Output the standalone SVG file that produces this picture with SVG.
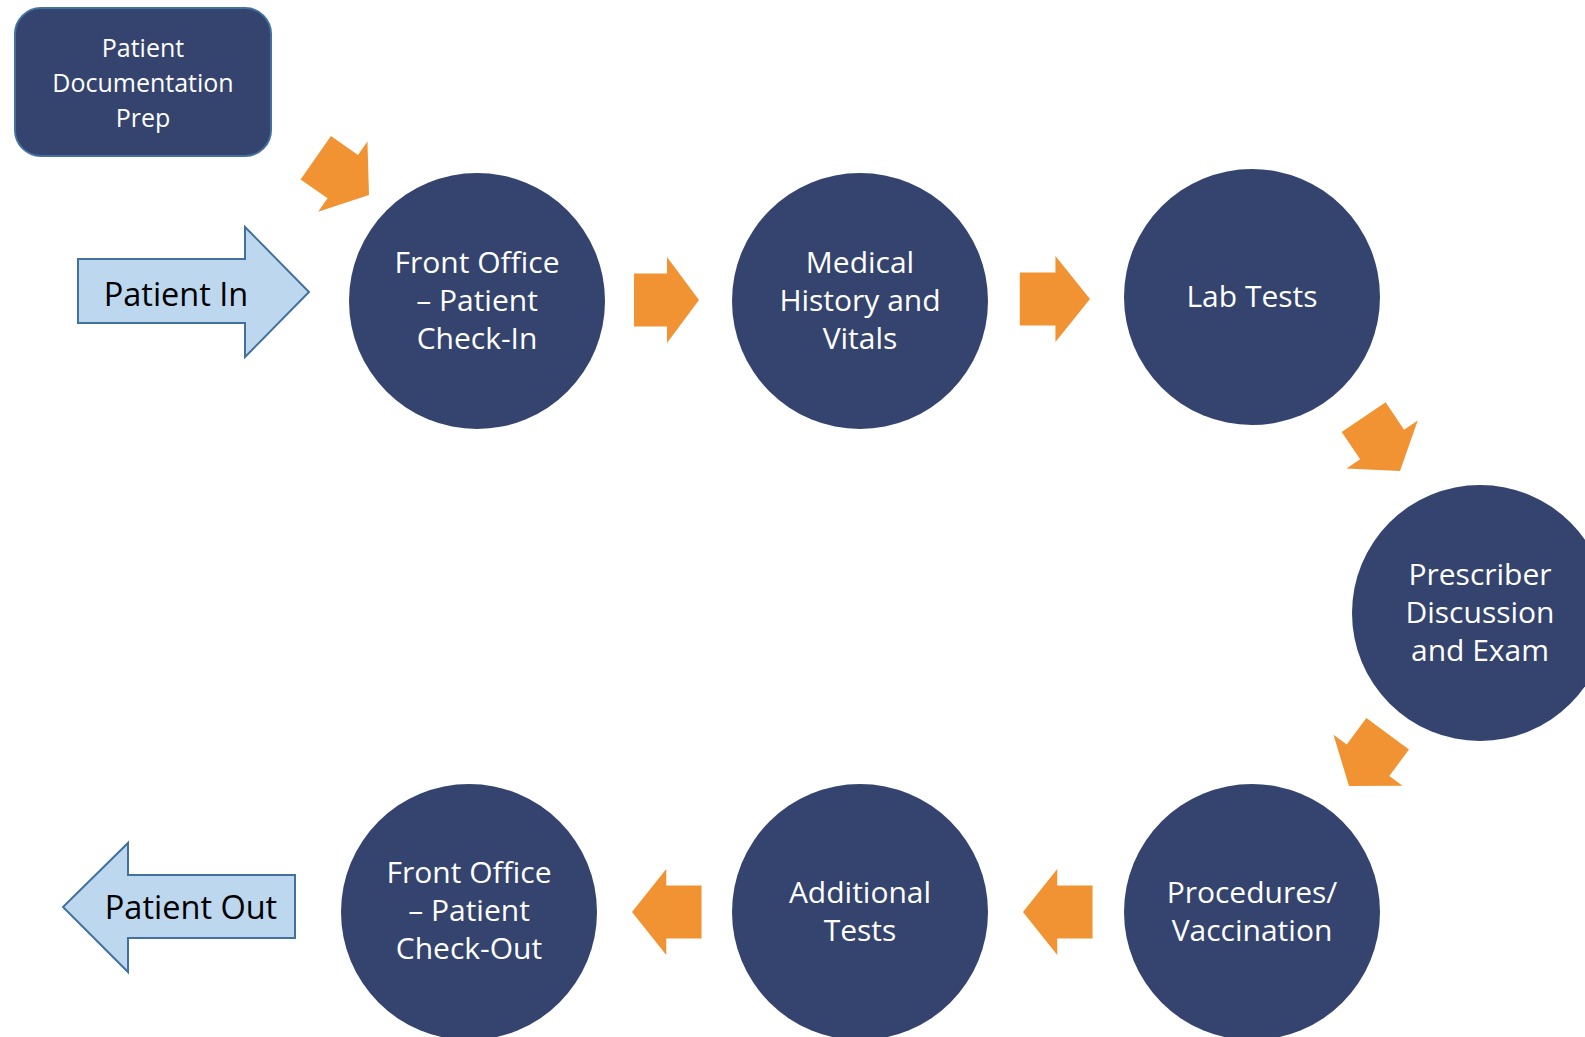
<svg xmlns="http://www.w3.org/2000/svg" width="1585" height="1037" viewBox="0 0 1585 1037">
<style>
.node{fill:#34446E;}
.nt{fill:#ffffff;font-family:"Open Sans","Liberation Sans",sans-serif;font-size:30px;text-anchor:middle;}
.bt{fill:#ffffff;font-family:"Open Sans","Liberation Sans",sans-serif;font-size:25px;text-anchor:middle;}
.big{fill:#BDD7EE;stroke:#41719C;stroke-width:2;}
.bigt{fill:#000000;font-family:"Open Sans","Liberation Sans",sans-serif;font-size:32.5px;text-anchor:middle;}
.oa{fill:#F29333;}
</style>
<defs>
<path id="oarrow" d="M-65,-26.5 L-32,-26.5 L-32,-43 L0,0 L-32,43 L-32,26.5 L-65,26.5 Z"/>
</defs>
<rect width="1585" height="1037" fill="#ffffff"/>
<g id="connectors">
<use href="#oarrow" class="oa" transform="translate(369,195) rotate(35)"/>
<use href="#oarrow" class="oa" transform="translate(699,300)"/>
<use href="#oarrow" class="oa" transform="translate(1090,299) scale(1.08,1)"/>
<use href="#oarrow" class="oa" transform="translate(1400,471) rotate(56)"/>
<use href="#oarrow" class="oa" transform="translate(1349,786) rotate(126.5)"/>
<use href="#oarrow" class="oa" transform="translate(1023,912) rotate(180) scale(1.07,1)"/>
<use href="#oarrow" class="oa" transform="translate(632,912) rotate(180) scale(1.07,1)"/>
</g>
<g id="prep">
<rect x="15" y="8" width="256" height="148" rx="26" fill="#34446E" stroke="#41719C" stroke-width="2"/>
<text class="bt" x="143" y="57">Patient</text>
<text class="bt" x="143" y="92">Documentation</text>
<text class="bt" x="143" y="127">Prep</text>
</g>
<g id="patient-in">
<path class="big" d="M78,259 L245,259 L245,227 L309,292 L245,357 L245,323 L78,323 Z"/>
<text class="bigt" x="176" y="306">Patient In</text>
</g>
<g id="patient-out">
<path class="big" d="M295,875 L128,875 L128,843 L63,907 L128,972 L128,938 L295,938 Z"/>
<text class="bigt" x="191" y="919">Patient Out</text>
</g>
<g id="checkin">
<circle class="node" cx="477" cy="301" r="128"/>
<text class="nt" x="477" y="273">Front Office</text>
<text class="nt" x="477" y="311">– Patient</text>
<text class="nt" x="477" y="349">Check-In</text>
</g>
<g id="medical">
<circle class="node" cx="860" cy="301" r="128"/>
<text class="nt" x="860" y="273">Medical</text>
<text class="nt" x="860" y="311">History and</text>
<text class="nt" x="860" y="349">Vitals</text>
</g>
<g id="lab">
<circle class="node" cx="1252" cy="297" r="128"/>
<text class="nt" x="1252" y="307">Lab Tests</text>
</g>
<g id="prescriber">
<circle class="node" cx="1480" cy="613" r="128"/>
<text class="nt" x="1480" y="585">Prescriber</text>
<text class="nt" x="1480" y="623">Discussion</text>
<text class="nt" x="1480" y="661">and Exam</text>
</g>
<g id="procedures">
<circle class="node" cx="1252" cy="912" r="128"/>
<text class="nt" x="1252" y="903">Procedures/</text>
<text class="nt" x="1252" y="941">Vaccination</text>
</g>
<g id="additional">
<circle class="node" cx="860" cy="912" r="128"/>
<text class="nt" x="860" y="903">Additional</text>
<text class="nt" x="860" y="941">Tests</text>
</g>
<g id="checkout">
<circle class="node" cx="469" cy="912" r="128"/>
<text class="nt" x="469" y="883">Front Office</text>
<text class="nt" x="469" y="921">– Patient</text>
<text class="nt" x="469" y="959">Check-Out</text>
</g>
</svg>
